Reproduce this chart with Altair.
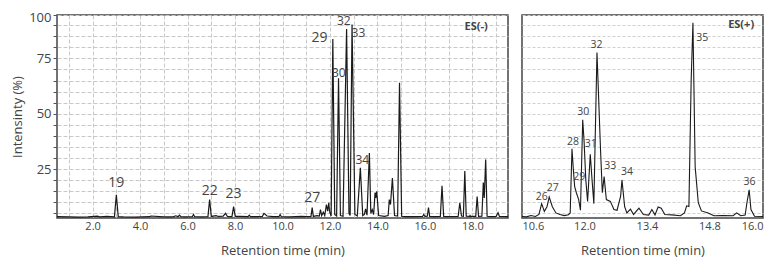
import altair as alt
import pandas as pd

# ---- ES(-) trace (retention time, intensity %) ----
neg_t = [0.5, 1.0, 1.4, 1.8, 2.2, 2.3, 2.6, 2.92, 3.0, 3.08, 3.3, 3.8, 4.4, 4.45, 5.0, 5.4, 5.5,
         5.6, 5.66, 5.72, 5.9, 6.2, 6.25, 6.3, 6.6, 6.86, 6.93, 7.0, 7.2, 7.3, 7.5, 7.6, 7.68,
         7.87, 7.94, 8.01, 8.2, 8.55, 8.6, 8.65, 9.0, 9.15, 9.22, 9.35, 9.6, 9.85, 9.9, 9.95,
         10.3, 10.8, 11.0, 11.2, 11.25, 11.3, 11.45, 11.55, 11.6, 11.65, 11.72, 11.78, 11.85,
         11.9, 11.95, 11.98, 12.05, 12.12, 12.2, 12.28, 12.36, 12.44, 12.55, 12.7, 12.8, 12.85,
         12.93, 13.05, 13.15, 13.28, 13.38, 13.45, 13.5, 13.56, 13.66, 13.72, 13.78, 13.84,
         13.9, 13.93, 13.97, 14.05, 14.3, 14.45, 14.5, 14.55, 14.63, 14.72, 14.85, 14.93,
         15.02, 15.2, 15.5, 15.9, 15.95, 16.0, 16.1, 16.15, 16.2, 16.4, 16.65, 16.72, 16.79,
         17.0, 17.4, 17.47, 17.54, 17.62, 17.68, 17.74, 17.88, 17.9, 17.92, 18.14, 18.2, 18.26,
         18.4, 18.46, 18.5, 18.56, 18.62, 18.8, 19.0, 19.08, 19.14, 19.5]
neg_v = [3.5, 3.4, 3.3, 3.4, 3.7, 3.4, 3.6, 3.4, 13.4, 3.5, 3.4, 3.3, 3.5, 3.8, 3.4, 3.4, 3.9,
         3.5, 4.2, 3.5, 3.4, 3.5, 4.5, 3.5, 3.4, 3.5, 11.2, 3.6, 4.0, 3.6, 3.7, 5.0, 3.6,
         3.5, 8.0, 3.6, 3.6, 3.5, 4.2, 3.5, 3.5, 3.6, 5.0, 3.8, 3.5, 3.5, 4.5, 3.5,
         3.4, 3.6, 3.5, 3.6, 7.6, 3.6, 4.0, 3.8, 6.7, 4.0, 5.5, 4.0, 9.0,
         6.0, 9.8, 6.0, 3.8, 83.8, 4.5, 3.8, 66.0, 4.0, 3.7, 88.3, 5.0, 4.0,
         90.3, 4.5, 3.8, 25.6, 4.0, 4.5, 7.0, 4.2, 32.3, 5.0, 6.7, 4.5,
         14.4, 12.0, 14.9, 4.0, 3.6, 4.0, 11.2, 9.0, 21.0, 4.0, 3.8, 64.0,
         3.7, 3.5, 3.5, 3.6, 4.5, 3.6, 3.7, 7.6, 3.6, 3.5, 3.6, 17.4, 3.6,
         3.5, 3.6, 9.8, 3.8, 3.7, 24.1, 3.7, 3.6, 4.0, 3.6, 3.6, 12.6, 3.6,
         3.7, 18.9, 12.0, 29.3, 3.7, 3.5, 3.6, 5.3, 3.6, 3.5]

# ---- ES(+) trace ----
pos_t = [10.6, 10.7, 10.8, 10.9, 10.98, 11.04, 11.1, 11.16, 11.21, 11.28, 11.36, 11.45, 11.55,
         11.64, 11.68, 11.72, 11.75, 11.78, 11.82, 11.87, 11.91, 11.96, 11.99, 12.03, 12.07,
         12.13, 12.17, 12.21, 12.28, 12.36, 12.40, 12.44, 12.49, 12.58, 12.66, 12.73, 12.81,
         12.84, 12.90, 12.95, 13.03, 13.1, 13.22, 13.32, 13.44, 13.51, 13.58, 13.65, 13.72,
         13.8, 13.96, 14.15, 14.24, 14.29, 14.34, 14.39, 14.43, 14.48, 14.55, 14.62, 14.77,
         14.9, 15.1, 15.33, 15.41, 15.5, 15.6, 15.64, 15.69, 15.73, 15.81, 16.0]
pos_v = [3.6, 3.4, 4.0, 3.6, 4.5, 9.4, 5.9, 8.0, 12.4, 8.0, 5.2, 4.5, 4.0,
         4.4, 5.2, 34.2, 25.0, 17.1, 14.2, 11.2, 6.4, 47.3, 38.0, 20.0, 10.4,
         31.7, 20.0, 9.4, 77.7, 33.5, 14.3, 21.6, 11.2, 10.4, 6.7, 6.4, 12.8,
         20.1, 8.0, 5.2, 6.9, 4.5, 7.3, 4.5, 4.2, 6.7, 4.3, 7.9, 7.3,
         4.5, 4.3, 3.9, 5.2, 8.4, 8.1, 64.7, 91.1, 26.0, 9.8, 6.1, 5.2,
         3.9, 4.0, 3.9, 5.2, 3.9, 4.2, 9.8, 15.6, 6.7, 3.7, 3.6]

# ---- peak labels ----
neg_big_names = ["19", "22", "23", "27", "29"]
neg_big_t = [3.0, 6.93, 7.94, 11.25, 11.56]
neg_big_v = [18.75, 15.2, 13.8, 12.1, 84.1]
neg_small_names = ["30", "32", "33", "34"]
neg_small_t = [12.37, 12.58, 13.2, 13.36]
neg_small_v = [68.2, 91.8, 86.6, 29.3]

pos_names = ["26", "27", "28", "29", "30", "31", "32", "33", "34", "35", "36"]
pos_lt = [11.04, 11.29, 11.74, 11.88, 11.97, 12.14, 12.27, 12.58, 12.95, 14.64, 15.70]
pos_lv = [12.6, 16.4, 37.2, 21.6, 50.9, 36.2, 81.1, 26.5, 23.5, 84.4, 19.3]

mode_names = ["ES(-)", "ES(+)"]
mode_t = [18.16, 15.51]
mode_v = [89.3, 90.2]

YMIN, YMAX = 2.9, 94.6
FONT = "Open Sans"
TXT = "#444444"

neg_df = pd.DataFrame({"t": neg_t, "v": neg_v})
pos_df = pd.DataFrame({"t": pos_t, "v": pos_v})

yscale = alt.Scale(domain=[YMIN, YMAX], nice=False, zero=False)
grid_vals = [5 * i for i in range(1, 19)] + [YMAX]

# ---------- left panel ----------
xl = alt.X("t:Q", scale=alt.Scale(domain=[0.5, 19.5], nice=False, zero=False),
           axis=alt.Axis(values=list(range(1, 20)), tickCount=100, labelOverlap=False,
                         labelExpr="datum.value % 2 == 0 ? format(datum.value, '.1f') : ''",
                         title="Retention time (min)", grid=True, ticks=False, domain=False,
                         labelPadding=2, titlePadding=13, labelFontSize=11, titleFontSize=13))
yl = alt.Y("v:Q", scale=yscale,
           axis=alt.Axis(values=grid_vals, tickCount=100, labelOverlap=False,
                         labelExpr="datum.value > 94 ? '100' : (datum.value % 25 == 0 ? datum.label : '')",
                         labelOffset={"condition": {"test": "datum.value > 94", "value": 2}, "value": 0},
                         title="Intensinty (%)", grid=True, ticks=True, tickSize=4, tickColor="#555555",
                         domain=False, labelFontSize=13, titleFontSize=13, labelPadding=2,
                         titlePadding=4))

left_line = alt.Chart(neg_df).mark_line(color="#1a1a1a", strokeWidth=1.2).encode(x=xl, y=yl)

def txt(names, ts, vs, size, weight="normal"):
    d = pd.DataFrame({"n": names, "t": ts, "v": vs})
    return alt.Chart(d).mark_text(fontSize=size, font=FONT, color=TXT, fontWeight=weight).encode(
        x="t:Q", y="v:Q", text="n:N")

left = alt.layer(
    left_line,
    txt(neg_big_names, neg_big_t, neg_big_v, 14),
    txt(neg_small_names, neg_small_t, neg_small_v, 12),
    txt(mode_names[:1], mode_t[:1], mode_v[:1], 11, "bold"),
).properties(width=451, height=203)

# ---------- right panel ----------
xr = alt.X("t:Q", scale=alt.Scale(domain=[10.6, 16.0], nice=False, zero=False),
           axis=alt.Axis(values=[10.6, 12.0, 13.4, 14.8, 16.0], format=".1f", tickCount=100,
                         labelOverlap=False,
                         title="Retention time (min)", grid=False, ticks=False, domain=False,
                         labelPadding=2, titlePadding=13, labelFontSize=11, titleFontSize=13))
yr = alt.Y("v:Q", scale=yscale,
           axis=alt.Axis(values=grid_vals, tickCount=100, labels=False, ticks=False, domain=False,
                         title=None, grid=True, gridDash=[3, 2], gridColor="#d0d0d0"))

right_line = alt.Chart(pos_df).mark_line(color="#1a1a1a", strokeWidth=1.1).encode(x=xr, y=yr)

right = alt.layer(
    right_line,
    txt(pos_names, pos_lt, pos_lv, 10.5),
    txt(mode_names[1:], mode_t[1:], mode_v[1:], 11, "bold"),
).properties(width=241, height=203)

chart = alt.hconcat(left, right, spacing=7).configure(
    font=FONT, padding={"left": 2, "top": 2, "right": 5, "bottom": 0}
).configure_axis(
    gridColor="#c8c8c8", gridDash=[4, 2], gridWidth=1, labelColor=TXT, titleColor=TXT,
    labelFont=FONT, titleFont=FONT, titleFontWeight="normal"
).configure_view(
    stroke="#444444", strokeWidth=1.5
)

chart.save("out.html", embed_options={"renderer": "svg", "actions": False})
